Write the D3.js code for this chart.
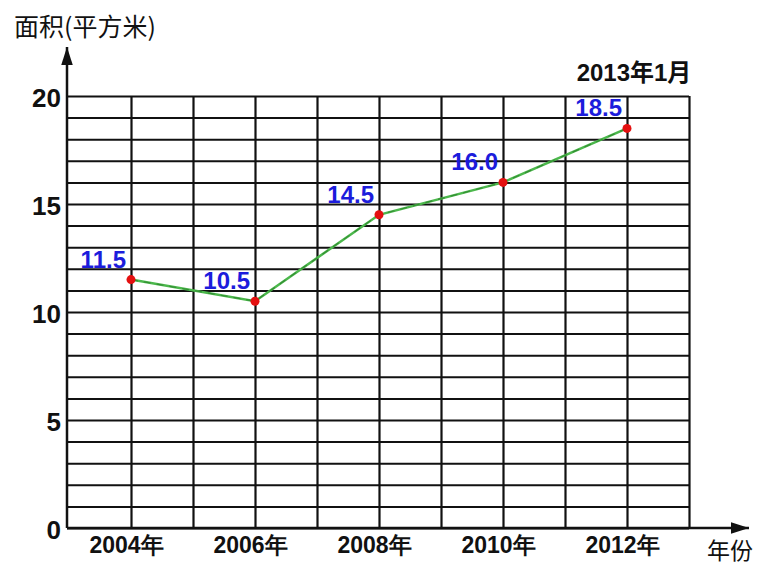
<!DOCTYPE html>
<html><head><meta charset="utf-8">
<script src="https://cdn.jsdelivr.net/npm/d3@7"></script>
<style>
body{margin:0;background:#fff;}
svg{display:block;font-family:"Liberation Sans","Noto Sans CJK SC",Arial,sans-serif;}
</style></head>
<body>
<svg id="c" width="757" height="565"></svg>
<script>
const years = [2004, 2006, 2008, 2010, 2012];
const areas = [11.5, 10.5, 14.5, 16.0, 18.5];
const areaLabels = ["11.5", "10.5", "14.5", "16.0", "18.5"];
const yTickLabels = [0, 5, 10, 15, 20];
const xTickLabels = ["2004年", "2006年", "2008年", "2010年", "2012年"];
const yTitle = "面积(平方米)";
const xTitle = "年份";
const note = "2013年1月";

const svg = d3.select("#c");
const x = d3.scaleLinear().domain([2003, 2013]).range([69, 689]);
const y = d3.scaleLinear().domain([0, 20]).range([528, 96]);
const x0 = x(2003) - 2;

// horizontal grid lines
svg.append("g")
  .attr("transform", `translate(${x0},0)`)
  .call(d3.axisLeft(y).tickValues(d3.range(0, 21)).tickSize(-(x(2013) - x0)).tickFormat(""))
  .call(g => g.select(".domain").remove())
  .call(g => g.selectAll("line").attr("stroke", "#111").attr("stroke-width", 2));

// vertical grid lines
svg.append("g")
  .attr("transform", `translate(0,${y(0)})`)
  .call(d3.axisBottom(x).tickValues(d3.range(2004, 2014)).tickSize(-(y(0) - y(20))).tickFormat(""))
  .call(g => g.select(".domain").remove())
  .call(g => g.selectAll("line").attr("stroke", "#111").attr("stroke-width", 2.2));

// y tick labels
svg.append("g")
  .attr("transform", `translate(${x0},0)`)
  .call(d3.axisLeft(y).tickValues(yTickLabels).tickSize(0).tickPadding(6))
  .call(g => g.select(".domain").remove())
  .call(g => g.selectAll("text").attr("font-size", 26).attr("font-weight", "bold")
      .attr("fill", "#111").attr("font-family", "Liberation Sans, Arial, sans-serif").attr("dy", "0.4em"));

// x tick labels
svg.append("g")
  .attr("transform", `translate(0,${y(0)})`)
  .call(d3.axisBottom(x).tickValues(years).tickSize(0).tickPadding(9).tickFormat((d, i) => xTickLabels[i]))
  .call(g => g.select(".domain").remove())
  .call(g => g.selectAll("text").attr("font-size", 23).attr("font-weight", "bold")
      .attr("fill", "#111").attr("dx", "-5"));

// axes with arrows
const defs = svg.append("defs");
defs.append("marker").attr("id", "arr").attr("viewBox", "0 0 10 10")
  .attr("refX", 10).attr("refY", 5).attr("markerWidth", 18).attr("markerHeight", 18)
  .attr("markerUnits", "userSpaceOnUse").attr("orient", "auto")
  .append("path").attr("d", "M0,1.8 L10,5 L0,8.2 Z").attr("fill", "#111");

svg.append("line").attr("x1", x0).attr("y1", y(0)).attr("x2", x0).attr("y2", 47)
  .attr("stroke", "#111").attr("stroke-width", 2.5).attr("marker-end", "url(#arr)");
svg.append("line").attr("x1", x0).attr("y1", y(0)).attr("x2", 749).attr("y2", y(0))
  .attr("stroke", "#111").attr("stroke-width", 2.5).attr("marker-end", "url(#arr)");

// data line
const data = years.map((d, i) => ({year: d, v: areas[i], label: areaLabels[i]}));
const line = d3.line().x(d => x(d.year)).y(d => y(d.v));
svg.append("path").datum(data).attr("d", line)
  .attr("fill", "none").attr("stroke", "#4cb84c").attr("stroke-width", 2.5);
svg.append("path").datum(data).attr("d", line)
  .attr("fill", "none").attr("stroke", "#1f6e1f").attr("stroke-width", 1.2)
  .attr("stroke-dasharray", "7,6").attr("opacity", 0.55);

svg.selectAll("circle.pt").data(data).join("circle")
  .attr("class", "pt").attr("cx", d => x(d.year)).attr("cy", d => y(d.v)).attr("r", 4.5)
  .attr("fill", "#e41010");

svg.selectAll("text.lbl").data(data).join("text")
  .attr("class", "lbl").attr("x", d => x(d.year) - 5).attr("y", d => y(d.v) - 12)
  .attr("text-anchor", "end").attr("font-size", 24).attr("font-weight", "bold")
  .attr("fill", "#1c1cdc").text(d => d.label);

// titles
svg.append("text").attr("x", 14).attr("y", 36).attr("font-size", 25).attr("fill", "#111")
  .attr("font-family", "Noto Sans CJK SC, sans-serif").text(yTitle);
svg.append("text").attr("x", 707).attr("y", 559).attr("font-size", 23).attr("fill", "#111")
  .attr("font-family", "Noto Sans CJK SC, sans-serif").text(xTitle);
svg.append("text").attr("x", 634).attr("y", 81).attr("text-anchor", "middle")
  .attr("font-size", 24).attr("font-weight", "bold").attr("fill", "#111").text(note);
</script>
</body></html>
